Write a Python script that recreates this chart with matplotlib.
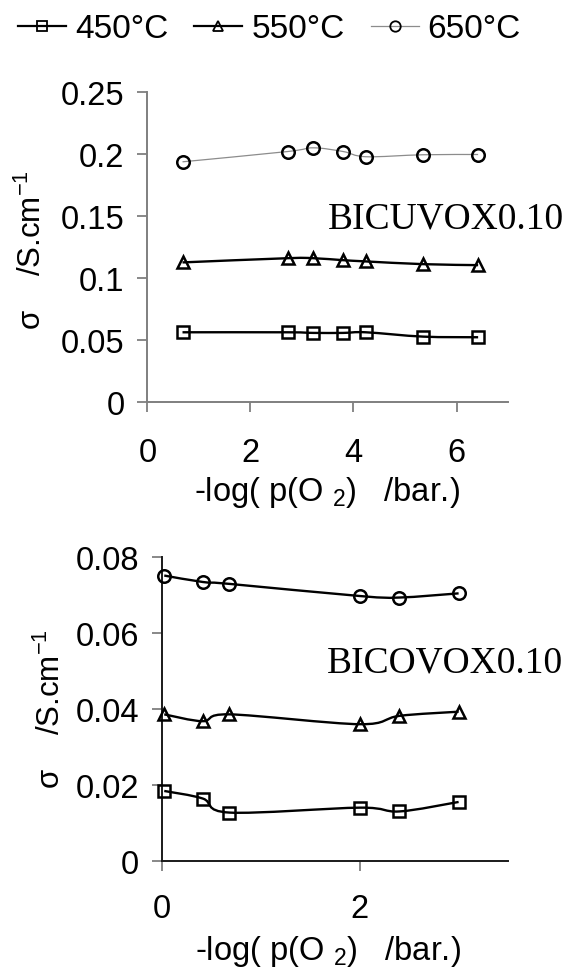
import numpy as np
import matplotlib
matplotlib.use("Agg")
import matplotlib.pyplot as plt
from matplotlib.path import Path
from matplotlib.patches import PathPatch
from matplotlib.lines import Line2D

plt.rcParams['font.family'] = ['Liberation Sans', 'DejaVu Sans']
plt.rcParams['mathtext.fontset'] = 'custom'
plt.rcParams['mathtext.rm'] = 'Liberation Sans'
plt.rcParams['mathtext.it'] = 'Liberation Sans:italic'
plt.rcParams['mathtext.bf'] = 'Liberation Sans:bold'

# ---- data: conductivity vs -log(pO2) ----
temps = ["450°C", "550°C", "650°C"]

cu_x = [0.68, 2.72, 3.22, 3.80, 4.24, 5.35, 6.42]
cu_450 = [0.0563, 0.0563, 0.0558, 0.0558, 0.0563, 0.0528, 0.0523]
cu_550 = [0.1127, 0.1161, 0.1161, 0.1145, 0.1135, 0.1113, 0.1105]
cu_650 = [0.1939, 0.2022, 0.2052, 0.2022, 0.1980, 0.1996, 0.1998]

co_x = [0.02, 0.41, 0.68, 2.00, 2.40, 3.00]
co_450 = [0.0184, 0.0164, 0.0127, 0.0140, 0.0130, 0.0155]
co_550 = [0.0386, 0.0368, 0.0386, 0.0360, 0.0382, 0.0393]
co_650 = [0.0752, 0.0735, 0.0730, 0.0698, 0.0694, 0.0705]

top_yticks = [0, 0.05, 0.1, 0.15, 0.2, 0.25]
top_yticklabels = ["0", "0.05", "0.1", "0.15", "0.2", "0.25"]
top_xticks = [0, 2, 4, 6]
bot_yticks = [0, 0.02, 0.04, 0.06, 0.08]
bot_yticklabels = ["0", "0.02", "0.04", "0.06", "0.08"]
bot_xticks = [0, 2]

markers = ['s', '^', 'o']


def smooth_path(x, y):
    """Smoothed polyline through the points as cubic Bezier segments."""
    pts = np.column_stack([x, y]).astype(float)
    n = len(pts)
    verts = [pts[0]]
    codes = [Path.MOVETO]
    for i in range(n - 1):
        p0 = pts[max(i - 1, 0)]
        p1 = pts[i]
        p2 = pts[i + 1]
        p3 = pts[min(i + 2, n - 1)]
        c1 = p1 + (p2 - p0) / 6.0
        c2 = p2 - (p3 - p1) / 6.0
        verts += [c1, c2, p2]
        codes += [Path.CURVE4] * 3
    return Path(verts, codes)


def draw_series(ax, x, y, marker, color, lw):
    ax.add_patch(PathPatch(smooth_path(x, y), fill=False, edgecolor=color,
                           lw=lw, zorder=2))
    ax.plot(x, y, linestyle='none', marker=marker, ms=9, mfc='none',
            mec='black', mew=1.8, zorder=3, clip_on=False)


def style_axes(ax, spine_color, xpad):
    for s in ['top', 'right']:
        ax.spines[s].set_visible(False)
    for s in ['left', 'bottom']:
        ax.spines[s].set_color(spine_color)
        ax.spines[s].set_linewidth(1.4)
    ax.tick_params(axis='both', direction='out', length=7.5, width=1.3,
                   color='#7f7f7f', labelsize=23.5, labelcolor='black')
    ax.tick_params(axis='y', pad=9)
    ax.tick_params(axis='x', pad=xpad)


fig = plt.figure(figsize=(5.69, 9.70), dpi=100)

# ---- upper panel: BICUVOX0.10 ----
ax1 = fig.add_axes([0.2592, 0.5845, 0.6336, 0.3193])
ax1.set_xlim(0, 7)
ax1.set_ylim(0, 0.25)
draw_series(ax1, cu_x, cu_450, markers[0], 'black', 1.7)
draw_series(ax1, cu_x, cu_550, markers[1], 'black', 1.7)
draw_series(ax1, cu_x, cu_650, markers[2], '#8c8c8c', 0.9)
ax1.set_xticks(top_xticks)
ax1.set_yticks(top_yticks)
ax1.set_yticklabels(top_yticklabels)
style_axes(ax1, '#7f7f7f', 18)
ax1.text(3.5, 0.1411, "BICUVOX0.10", family='Liberation Serif', fontsize=27,
         ha='left', va='baseline')

# ---- lower panel: BICOVOX0.10 ----
ax2 = fig.add_axes([0.2852, 0.1116, 0.6076, 0.3128])
ax2.set_xlim(0, 3.5)
ax2.set_ylim(0, 0.08)
draw_series(ax2, co_x, co_450, markers[0], 'black', 1.7)
draw_series(ax2, co_x, co_550, markers[1], 'black', 1.7)
draw_series(ax2, co_x, co_650, markers[2], 'black', 1.7)
ax2.set_xticks(bot_xticks)
ax2.set_yticks(bot_yticks)
ax2.set_yticklabels(bot_yticklabels)
style_axes(ax2, '#1a1a1a', 16)
ax2.text(1.67, 0.0498, "BICOVOX0.10", family='Liberation Serif', fontsize=27,
         ha='left', va='baseline')

# ---- axis titles ----
ylab = "σ    /S.cm$^{-1}$"
xlab = "-log( p(O $_{2}$)   /bar.)"
fig.text(32 / 569, 1 - 250 / 970, ylab, rotation=90, fontsize=22.5,
         ha='center', va='center')
fig.text(51 / 569, 1 - 709 / 970, ylab, rotation=90, fontsize=22.5,
         ha='center', va='center')
fig.text(327 / 569, 1 - 493 / 970, xlab, fontsize=23.5, ha='center',
         va='center')
fig.text(328 / 569, 1 - 952 / 970, xlab, fontsize=23.5, ha='center',
         va='center')

# ---- legend ----
handles = [
    Line2D([], [], color='black', lw=1.6, marker=markers[0], ms=7.5,
           mfc='none', mec='black', mew=1.3),
    Line2D([], [], color='black', lw=1.6, marker=markers[1], ms=7.5,
           mfc='none', mec='black', mew=1.3),
    Line2D([], [], color='#8c8c8c', lw=0.9, marker=markers[2], ms=7.5,
           mfc='none', mec='black', mew=1.3),
]
fig.legend(handles, temps, loc='center left',
           bbox_to_anchor=(18 / 569, 1 - 30 / 970), ncol=3, frameon=False,
           fontsize=24, handlelength=1.44, handletextpad=0.27,
           columnspacing=0.78, borderpad=0, borderaxespad=0)

fig.savefig("out.png", dpi=100)
